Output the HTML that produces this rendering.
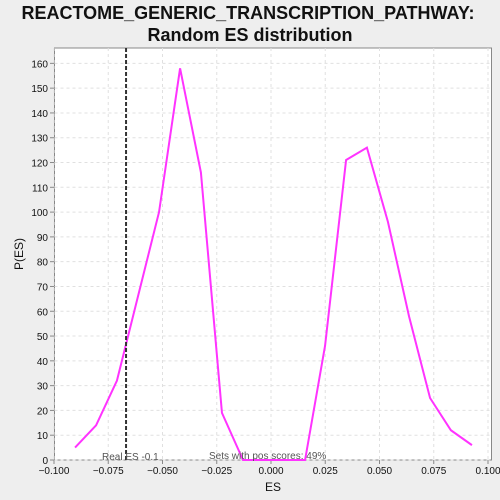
<!DOCTYPE html>
<html><head><meta charset="utf-8"><style>
html,body{margin:0;width:500px;height:500px;overflow:hidden;background:#eeeeee;font-family:"Liberation Sans","DejaVu Sans",sans-serif}
svg{display:block}
</style></head><body>
<svg width="500" height="500" id="c" xmlns="http://www.w3.org/2000/svg">
<text x="248" y="19" text-anchor="middle" font-size="18" font-weight="bold" fill="#111">REACTOME_GENERIC_TRANSCRIPTION_PATHWAY:</text>
<text x="250" y="41" text-anchor="middle" font-size="18" font-weight="bold" fill="#111">Random ES distribution</text>
<rect x="54.5" y="48" width="437" height="412" fill="#fff" stroke="#888"/>
<g id="grid"></g><g id="ticks"></g>
<text x="273" y="491" text-anchor="middle" font-size="12" fill="#111">ES</text>
<text x="23" y="254" text-anchor="middle" font-size="12" fill="#111" transform="rotate(-90 23 254)">P(ES)</text>
<g id="marks"></g>
<text x="102" y="460" font-size="10" fill="#555">Real ES -0.1</text>
<text x="209" y="459" font-size="10" fill="#555">Sets with pos scores: 49%</text>
</svg>
<script>
const esValues=[-0.0903,-0.0806,-0.0710,-0.0613,-0.0516,-0.0419,-0.0323,-0.0226,-0.0129,-0.0032,0.0065,0.0157,0.0249,0.0346,0.0442,0.0539,0.0636,0.0733,0.0829,0.0926];
const pValues=[5,14,32,66,100,158,116,19,0,0,0,0,46,121,126,96,58,25,12,6];
const xTicks=[-0.1,-0.075,-0.05,-0.025,0,0.025,0.05,0.075,0.1];
const xTickLabels=["-0.100","-0.075","-0.050","-0.025","0.000","0.025","0.050","0.075","0.100"];
const yTicks=[0,10,20,30,40,50,60,70,80,90,100,110,120,130,140,150,160];
const realES=-0.0668;
const X=v=>271+v*2170, Y=v=>460-v*2.479;
const NS="http://www.w3.org/2000/svg";
function mk(t,a,p){const e=document.createElementNS(NS,t);for(const k in a)e.setAttribute(k,a[k]);p.appendChild(e);return e;}
const g=document.getElementById('grid'),tk=document.getElementById('ticks'),m=document.getElementById('marks');
xTicks.forEach((v,i)=>{const x=X(v);
 const l=mk('line',{x1:x,x2:x,y1:48,y2:460,stroke:'#e0e0e0','stroke-dasharray':'3,3'},g);
 
 
 mk('line',{x1:x,x2:x,y1:460,y2:464,stroke:'#888'},tk);
 const t=mk('text',{x:x,y:474,'text-anchor':'middle','font-size':'10',fill:'#111'},tk);t.textContent=xTickLabels[i].replace('-','\u2212');
 
 
});
yTicks.forEach(v=>{const y=Y(v);
 const l=mk('line',{x1:54.5,x2:491.5,y1:y,y2:y,stroke:'#e0e0e0','stroke-dasharray':'3,3'},g);
 
 
 mk('line',{x1:50,x2:54.5,y1:y,y2:y,stroke:'#888'},tk);
 const t=mk('text',{x:48,y:y+4,'text-anchor':'end','font-size':'10',fill:'#111'},tk);t.textContent=v;
 
 
});
const pl=mk('polyline',{points:esValues.map((v,i)=>X(v)+','+Y(pValues[i])).join(' '),fill:'none',stroke:'#ff33ff','stroke-width':'2'},m);


const rl=mk('line',{x1:X(realES),x2:X(realES),y1:48,y2:460,stroke:'#333','stroke-width':'2','stroke-dasharray':'4,2'},m);


</script>
</body></html>
